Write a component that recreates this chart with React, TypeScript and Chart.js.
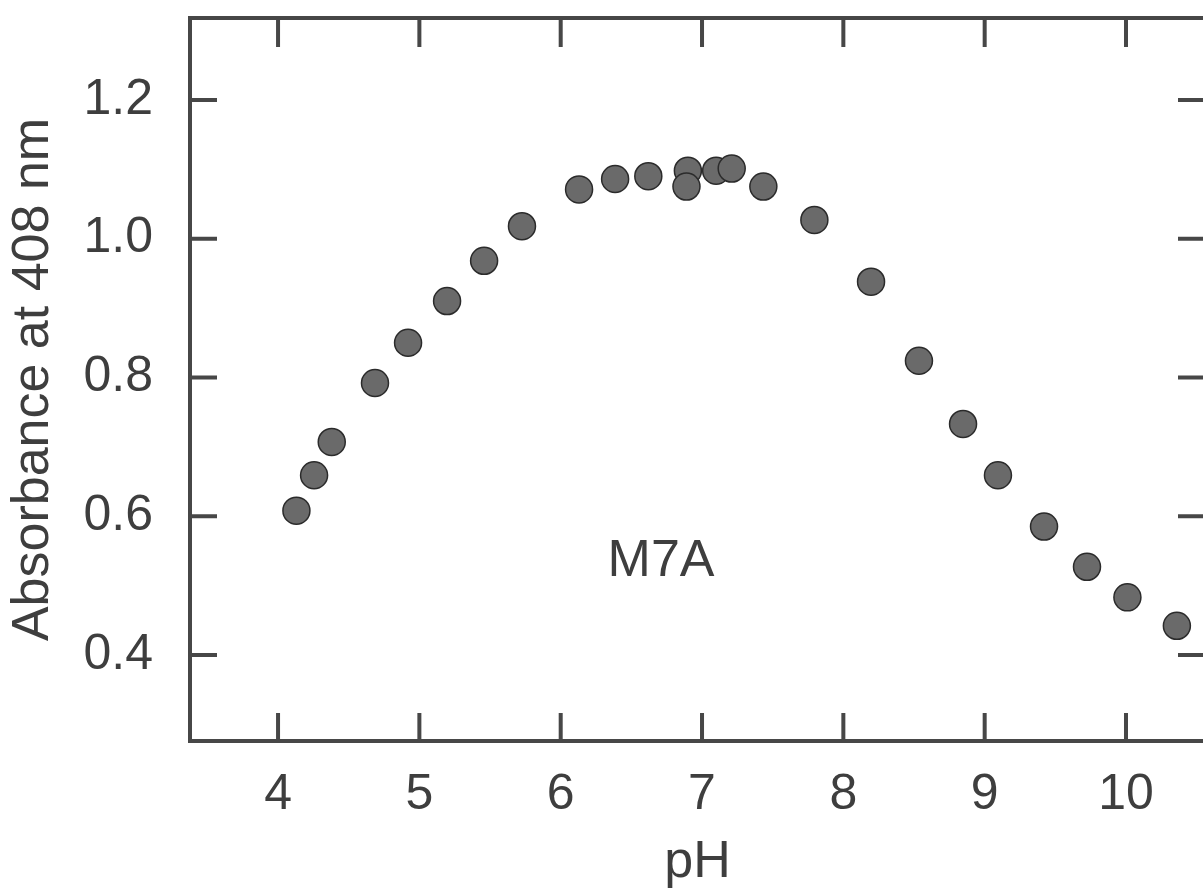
import React, { useEffect, useRef } from "react";
import { Chart, registerables } from "chart.js";

Chart.register(...registerables);

const phValues: number[] = [
  4.13, 4.255, 4.38, 4.686, 4.92, 5.196, 5.458, 5.726, 6.13, 6.385, 6.62, 6.9, 6.89,
  7.1, 7.21, 7.434, 7.795, 8.196, 8.535, 8.847, 9.094, 9.42, 9.724, 10.01, 10.36,
];
const absorbanceValues: number[] = [
  0.608, 0.659, 0.707, 0.792, 0.85, 0.91, 0.968, 1.018, 1.071, 1.086, 1.09, 1.098, 1.075,
  1.098, 1.101, 1.075, 1.027, 0.938, 0.824, 0.733, 0.659, 0.585, 0.527, 0.483, 0.442,
];
const xTickValues: number[] = [4, 5, 6, 7, 8, 9, 10];
const yTickValues: number[] = [0.4, 0.6, 0.8, 1.0, 1.2];
const annotationText = "M7A";
const annotationPos = { x: 6.71, y: 0.535 };

const FONT = "'Liberation Sans', Arial, Helvetica, sans-serif";
const INK = "#474747";
const TEXT = "#3e3e3e";

const framePlugin = {
  id: "frame",
  afterDatasetsDraw(chart: any) {
    const { ctx, chartArea, scales } = chart;
    const { left, right, top, bottom } = chartArea;
    ctx.save();
    ctx.strokeStyle = INK;
    ctx.lineWidth = 4;
    ctx.lineCap = "butt";
    ctx.strokeRect(left, top, right - left, bottom - top);
    ctx.beginPath();
    for (const v of xTickValues) {
      const px = scales.x.getPixelForValue(v);
      ctx.moveTo(px, bottom);
      ctx.lineTo(px, bottom - 28);
      ctx.moveTo(px, top);
      ctx.lineTo(px, top + 29);
    }
    for (const v of yTickValues) {
      const py = scales.y.getPixelForValue(v);
      ctx.moveTo(left, py);
      ctx.lineTo(left + 27, py);
      ctx.moveTo(right, py);
      ctx.lineTo(right - 27, py);
    }
    ctx.stroke();
    ctx.fillStyle = TEXT;
    ctx.font = `52px ${FONT}`;
    ctx.textAlign = "center";
    ctx.textBaseline = "middle";
    ctx.fillText(
      annotationText,
      scales.x.getPixelForValue(annotationPos.x),
      scales.y.getPixelForValue(annotationPos.y)
    );
    ctx.restore();
  },
};

const zeroPad = (s: any) => {
  s.paddingTop = 0;
  s.paddingBottom = 0;
  s.paddingLeft = 0;
  s.paddingRight = 0;
};

export default function App() {
  const canvasRef = useRef<HTMLCanvasElement | null>(null);

  useEffect(() => {
    if (!canvasRef.current) return;
    const data = phValues.map((x, i) => ({ x, y: absorbanceValues[i] }));
    const chart = new Chart(canvasRef.current, {
      type: "scatter",
      data: {
        datasets: [
          {
            label: annotationText,
            data,
            pointRadius: 13.5,
            pointHoverRadius: 13.5,
            backgroundColor: "#6a6a6a",
            borderColor: "#2b2b2b",
            borderWidth: 1.5,
          },
        ],
      },
      options: {
        animation: false,
        responsive: false,
        devicePixelRatio: 1,
        events: [],
        layout: { padding: { left: 0, top: 18, right: 7, bottom: 0 } },
        plugins: {
          legend: { display: false },
          tooltip: { enabled: false },
        },
        scales: {
          x: {
            type: "linear",
            position: "bottom",
            min: 3.377,
            max: 10.559,
            afterFit: (s: any) => {
              s.height = 153;
              zeroPad(s);
            },
            grid: { display: false, drawTicks: false, tickLength: 0 },
            border: { display: false },
            ticks: {
              stepSize: 1,
              includeBounds: false,
              padding: 24,
              color: TEXT,
              font: { family: FONT, size: 50 },
              callback: (v: any) => String(v),
            },
            title: {
              display: true,
              text: "pH",
              color: TEXT,
              font: { family: FONT, size: 52 },
              padding: { top: 0, bottom: 0 },
            },
          },
          y: {
            type: "linear",
            min: 0.276,
            max: 1.318,
            afterFit: (s: any) => {
              s.width = 190;
              zeroPad(s);
            },
            grid: { display: false, drawTicks: false, tickLength: 0 },
            border: { display: false },
            ticks: {
              stepSize: 0.2,
              includeBounds: false,
              padding: 37,
              color: TEXT,
              font: { family: FONT, size: 50 },
              callback: (v: any) => Number(v).toFixed(1),
            },
            title: {
              display: true,
              text: "Absorbance at 408 nm",
              color: TEXT,
              font: { family: FONT, size: 52 },
              padding: { top: 2, bottom: 0 },
            },
          },
        },
      },
      plugins: [framePlugin],
    });
    return () => chart.destroy();
  }, []);

  return (
    <div
      style={{
        position: "absolute",
        left: 0,
        top: 0,
        width: 1203,
        height: 894,
        overflow: "hidden",
        background: "#fff",
      }}
    >
      <canvas
        ref={canvasRef}
        width={1220}
        height={894}
        style={{ display: "block", width: 1220, height: 894 }}
      />
    </div>
  );
}
